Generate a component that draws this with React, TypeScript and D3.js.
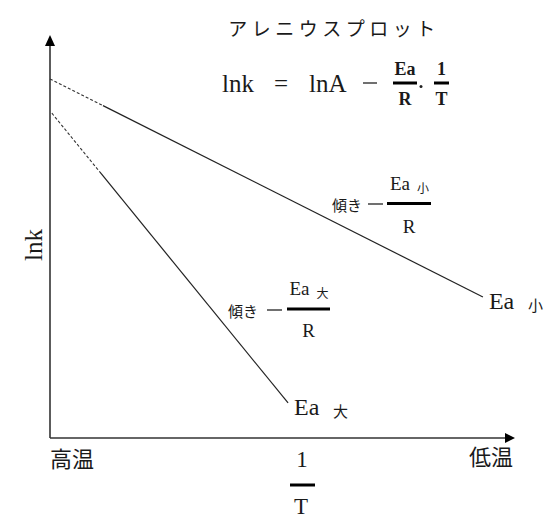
import * as d3 from 'd3';

// Arrhenius plot: two straight lines ln k vs 1/T (arbitrary units 0..100)
const seriesNames = ['小', '大'];
const startX = [0, 0.4];
const startY = [89.1, 80.6];
const dashEndX = [11.4, 10.75];
const endX = [93.1, 51.2];
const endY = [35.0, 8.7];

const W = 557;
const H = 525;
const SERIF = '"Liberation Serif", "Noto Sans CJK JP", serif';
const CJK = '"Noto Sans CJK JP", sans-serif';
const INK = '#1a1a1a';

const x = d3.scaleLinear().domain([0, 100]).range([50, 515]);
const y = d3.scaleLinear().domain([0, 100]).range([438, 35]);

function yAt(i: number, t: number) {
  const slope = (endY[i] - startY[i]) / (endX[i] - startX[i]);
  return startY[i] + slope * (t - startX[i]);
}

function Fraction({ cx, barY, width, top, bottom, sub, size, weight, topDy, bottomDy }: {
  cx: number; barY: number; width: number; top: string; bottom: string;
  sub?: string; size: number; weight?: string; topDy: number; bottomDy: number;
}) {
  return (
    <g>
      <text x={sub ? cx - 9 : cx} y={barY + topDy} textAnchor="middle" fontFamily={SERIF}
        fontSize={size} fontWeight={weight ?? 'normal'} fill={INK}>{top}</text>
      {sub && (
        <text x={cx + 14} y={barY - 11} textAnchor="middle" fontFamily={CJK}
          fontSize={12} fill={INK}>{sub}</text>
      )}
      <line x1={cx - width / 2} x2={cx + width / 2} y1={barY} y2={barY}
        stroke="#000" strokeWidth={3} />
      <text x={cx} y={barY + bottomDy} textAnchor="middle" fontFamily={SERIF}
        fontSize={size} fontWeight={weight ?? 'normal'} fill={INK}>{bottom}</text>
    </g>
  );
}

export default function App() {
  const line = d3.line<[number, number]>().x((d) => x(d[0])).y((d) => y(d[1]));
  const [x0, x1] = x.range();
  const [y0, y1] = y.range();

  return (
    <svg width={W} height={H} style={{ position: 'absolute', left: 0, top: 0, background: '#fff' }}>
      {/* axes */}
      <line x1={x0} x2={x1 - 8} y1={y0} y2={y0} stroke="#333" strokeWidth={1.6} />
      <path d={`M${x1},${y0} L${x1 - 10},${y0 - 5} L${x1 - 10},${y0 + 5} Z`} fill="#000" />
      <line x1={x0} x2={x0} y1={y0} y2={y1 + 8} stroke="#333" strokeWidth={1.6} />
      <path d={`M${x0},${y1} L${x0 - 5},${y1 + 11} L${x0 + 5},${y1 + 11} Z`} fill="#000" />

      {/* lines */}
      {seriesNames.map((name, i) => (
        <g key={name}>
          <path d={line([[startX[i], startY[i]], [dashEndX[i], yAt(i, dashEndX[i])]]) ?? ''}
            fill="none" stroke="#333" strokeWidth={1.1} strokeDasharray="3,2" />
          <path d={line([[dashEndX[i], yAt(i, dashEndX[i])], [endX[i], endY[i]]]) ?? ''}
            fill="none" stroke="#222" strokeWidth={1.2} />
          <text x={x(endX[i]) + 6} y={y(endY[i]) + 12} fontFamily={SERIF} fontSize={24} fill={INK}>Ea</text>
          <text x={x(endX[i]) + 45} y={y(endY[i]) + 14} fontFamily={CJK} fontSize={15} fill={INK}>{name}</text>
        </g>
      ))}

      {/* title */}
      <text x={334} y={36} textAnchor="middle" fontFamily={CJK} fontSize={19} letterSpacing={4.5} fill={INK}>
        アレニウスプロット
      </text>

      {/* formula */}
      <text x={222} y={92} fontFamily={SERIF} fontSize={25} fill={INK}>lnk</text>
      <text x={281} y={92} textAnchor="middle" fontFamily={SERIF} fontSize={25} fill={INK}>=</text>
      <text x={309} y={92} fontFamily={SERIF} fontSize={25} fill={INK}>lnA</text>
      <line x1={363} x2={377} y1={83} y2={83} stroke="#222" strokeWidth={1.3} />
      <Fraction cx={405} barY={83} width={24} top="Ea" bottom="R" size={18} weight="bold" topDy={-8} bottomDy={22} />
      <circle cx={421} cy={86.5} r={1.5} fill="#222" />
      <Fraction cx={441.5} barY={83} width={15} top="1" bottom="T" size={18} weight="bold" topDy={-8} bottomDy={22} />

      {/* slope annotations */}
      <text x={332} y={211} fontFamily={CJK} fontSize={15} fill={INK}>傾き</text>
      <line x1={368} x2={383} y1={204} y2={204} stroke="#222" strokeWidth={1.3} />
      <Fraction cx={409} barY={203.5} width={44} top="Ea" bottom="R" sub="小" size={19} topDy={-13.5} bottomDy={29.5} />

      <text x={228} y={317} fontFamily={CJK} fontSize={15} fill={INK}>傾き</text>
      <line x1={267} x2={282} y1={310} y2={310} stroke="#222" strokeWidth={1.3} />
      <Fraction cx={308.5} barY={309} width={43} top="Ea" bottom="R" sub="大" size={19} topDy={-14} bottomDy={28} />

      {/* axis labels */}
      <text x={42} y={245} transform="rotate(-90 42 245)" textAnchor="middle" fontFamily={SERIF} fontSize={25} fill={INK}>lnk</text>
      <text x={50} y={467} fontFamily={CJK} fontSize={22} fill={INK}>高温</text>
      <text x={513} y={465} textAnchor="end" fontFamily={CJK} fontSize={22} fill={INK}>低温</text>
      <text x={302} y={467} textAnchor="middle" fontFamily={SERIF} fontSize={23} fill={INK}>1</text>
      <line x1={290} x2={315} y1={485} y2={485} stroke="#000" strokeWidth={3} />
      <text x={301} y={514} textAnchor="middle" fontFamily={SERIF} fontSize={23} fill={INK}>T</text>
    </svg>
  );
}
